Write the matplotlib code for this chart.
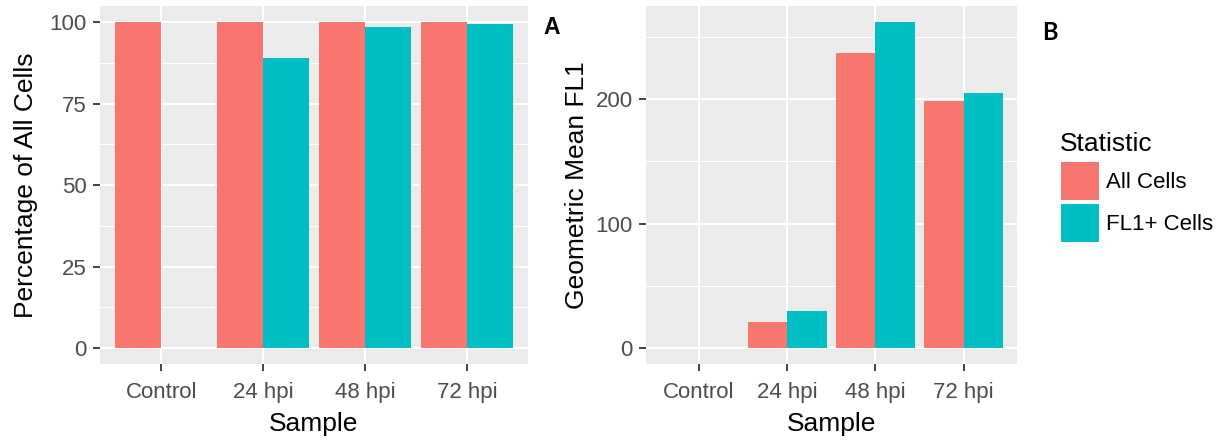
import numpy as np
import matplotlib.pyplot as plt

plt.rcParams['font.family'] = ['Liberation Sans', 'DejaVu Sans']

samples = ["Control", "24 hpi", "48 hpi", "72 hpi"]
statistics = ["All Cells", "FL1+ Cells"]
colors = ["#F8766D", "#00BFC4"]

# percentage of all cells
pct_all = [100, 100, 100, 100]
pct_fl1 = [0, 89.0, 98.5, 99.6]

# geometric mean FL1
gm_all = [0, 20.9, 237.2, 198.9]
gm_fl1 = [0, 29.7, 261.8, 204.8]

W, H = 1222, 440
fig = plt.figure(figsize=(W / 100, H / 100), dpi=100)


def panel(x0, x1, all_vals, fl1_vals, ylabel, major, minor, ypad):
    top_px, bot_px = 6, 364.3
    ax = fig.add_axes([x0 / W, (H - bot_px) / H, (x1 - x0) / W, (bot_px - top_px) / H])
    ax.set_facecolor("#EBEBEB")
    x = np.arange(len(samples))
    w = 0.45
    ax.bar(x - w / 2, all_vals, w, color=colors[0], label=statistics[0], zorder=3)
    ax.bar(x + w / 2, fl1_vals, w, color=colors[1], label=statistics[1], zorder=3)
    top = max(max(all_vals), max(fl1_vals))
    pad = top * 0.05
    ax.set_ylim(-pad, top + pad)
    ax.set_xlim(-0.6, len(samples) - 0.4)
    ax.set_yticks(major)
    ax.set_yticks(minor, minor=True)
    ax.set_xticks(x)
    ax.set_xticklabels(samples)
    ax.grid(True, which="major", color="white", lw=1.5, zorder=0)
    ax.grid(True, which="minor", axis="y", color="white", lw=0.75, zorder=0)
    for s in ax.spines.values():
        s.set_visible(False)
    ax.tick_params(which="major", length=5, width=1.3, color="#333333",
                   labelsize=16, labelcolor="#4D4D4D", pad=4.5)
    ax.tick_params(axis="x", pad=7.5)
    ax.tick_params(which="minor", length=0)
    ax.set_xlabel("Sample", fontsize=19, labelpad=7)
    ax.set_ylabel(ylabel, fontsize=19, labelpad=ypad)
    return ax


axA = panel(100, 528, pct_all, pct_fl1, "Percentage of All Cells",
            [0, 25, 50, 75, 100], [12.5, 37.5, 62.5, 87.5], 8)
axB = panel(646, 1016.7, gm_all, gm_fl1, "Geometric Mean FL1",
            [0, 100, 200], [50, 150, 250], 5)

fig.text(543 / W, 1 - 28 / H, "A", fontsize=16.5, fontweight="bold", va="center")
fig.text(1042 / W, 1 - 33 / H, "B", fontsize=17, fontweight="bold", va="center",
         family=["Lato", "DejaVu Sans"])

# legend
fig.text(1060 / W, 1 - 150.7 / H, "Statistic", fontsize=19, va="baseline")
handles, labels = axB.get_legend_handles_labels()
fs = 16
fig.legend(handles, labels, loc="upper left", bbox_to_anchor=(1060.7 / W, 1 - 161.7 / H),
           frameon=False, fontsize=fs, handlelength=1.72, handleheight=2.26,
           handletextpad=0.3, labelspacing=0.19, borderaxespad=0, borderpad=0)

fig.savefig("out.png", dpi=100)
